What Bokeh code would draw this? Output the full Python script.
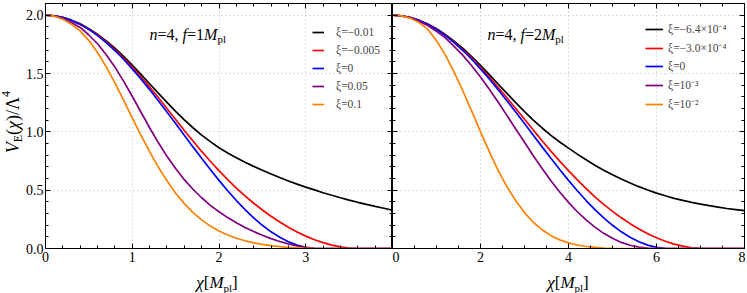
from bokeh.plotting import figure
from bokeh.models import (Range1d, LinearAxis, SingleIntervalTicker, Legend, LegendItem, Label,
                          Div, PrintfTickFormatter, CustomJSTickFormatter)
from bokeh.layouts import row, column
from bokeh.embed import file_html
from bokeh.resources import INLINE

# ---------------- data ----------------
x_left = [0.0, 0.1, 0.2, 0.3, 0.4, 0.5, 0.6, 0.7, 0.8, 0.9, 1.0, 1.1, 1.2, 1.3, 1.4, 1.5,
          1.6, 1.7, 1.8, 1.9, 2.0, 2.1, 2.2, 2.3, 2.4, 2.5, 2.6, 2.7, 2.8, 2.9, 3.0, 3.1,
          3.2, 3.3, 3.4, 3.5, 3.6, 3.7, 3.8, 3.9, 4.0]
black_left = [2.000, 1.995, 1.981, 1.957, 1.926, 1.884, 1.836, 1.779, 1.717, 1.647, 1.572,
              1.493, 1.412, 1.332, 1.252, 1.176, 1.102, 1.035, 0.972, 0.916, 0.864, 0.819,
              0.778, 0.740, 0.704, 0.670, 0.638, 0.608, 0.579, 0.552, 0.526, 0.502, 0.478,
              0.456, 0.435, 0.415, 0.396, 0.378, 0.361, 0.345, 0.329]
red_left = [2.000, 1.995, 1.980, 1.953, 1.923, 1.880, 1.830, 1.770, 1.705, 1.632, 1.555,
            1.472, 1.385, 1.294, 1.200, 1.106, 1.012, 0.921, 0.832, 0.748, 0.667, 0.590,
            0.518, 0.451, 0.388, 0.330, 0.276, 0.227, 0.182, 0.141, 0.106, 0.075, 0.050,
            0.029, 0.014, 0.003, 0.000, 0.000, 0.000, 0.000, 0.000]
blue_left = [2.000, 1.995, 1.980, 1.955, 1.921, 1.878, 1.825, 1.765, 1.697, 1.622, 1.540,
             1.454, 1.362, 1.267, 1.170, 1.071, 0.971, 0.871, 0.773, 0.677, 0.584, 0.495,
             0.411, 0.334, 0.263, 0.199, 0.143, 0.096, 0.058, 0.029, 0.010, 0.001, 0.000,
             0.000, 0.000, 0.000, 0.000, 0.000, 0.000, 0.000, 0.000]
purple_left = [2.000, 1.993, 1.972, 1.938, 1.895, 1.830, 1.755, 1.660, 1.555, 1.435, 1.305,
               1.170, 1.035, 0.908, 0.790, 0.685, 0.590, 0.508, 0.435, 0.370, 0.315, 0.265,
               0.220, 0.180, 0.145, 0.113, 0.085, 0.060, 0.040, 0.022, 0.009, 0.002, 0.000,
               0.000, 0.000, 0.000, 0.000, 0.000, 0.000, 0.000, 0.000]
orange_left = [2.000, 1.991, 1.965, 1.922, 1.865, 1.782, 1.680, 1.557, 1.420, 1.272, 1.120,
               0.972, 0.830, 0.698, 0.580, 0.473, 0.385, 0.307, 0.245, 0.192, 0.150, 0.116,
               0.088, 0.066, 0.048, 0.035, 0.024, 0.016, 0.010, 0.006, 0.003, 0.001, 0.000,
               0.000, 0.000, 0.000, 0.000, 0.000, 0.000, 0.000, 0.000]

x_right = [0.0, 0.2, 0.4, 0.6, 0.8, 1.0, 1.2, 1.4, 1.6, 1.8, 2.0, 2.2, 2.4, 2.6, 2.8, 3.0,
           3.2, 3.4, 3.6, 3.8, 4.0, 4.2, 4.4, 4.6, 4.8, 5.0, 5.2, 5.4, 5.6, 5.8, 6.0, 6.2,
           6.4, 6.6, 6.8, 7.0, 7.2, 7.4, 7.6, 7.8, 8.0]
black_right = [2.000, 1.995, 1.981, 1.956, 1.925, 1.883, 1.835, 1.778, 1.715, 1.645, 1.570,
               1.490, 1.410, 1.330, 1.250, 1.174, 1.100, 1.033, 0.970, 0.913, 0.860, 0.809,
               0.760, 0.714, 0.670, 0.632, 0.595, 0.562, 0.530, 0.502, 0.475, 0.452, 0.430,
               0.412, 0.395, 0.380, 0.367, 0.355, 0.343, 0.334, 0.325]
red_right = [2.000, 1.995, 1.980, 1.955, 1.922, 1.878, 1.828, 1.769, 1.703, 1.631, 1.552,
             1.470, 1.382, 1.292, 1.200, 1.108, 1.015, 0.924, 0.835, 0.749, 0.667, 0.588,
             0.513, 0.443, 0.378, 0.318, 0.263, 0.213, 0.167, 0.127, 0.092, 0.062, 0.038,
             0.020, 0.006, 0.001, 0.000, 0.000, 0.000, 0.000, 0.000]
blue_right = [2.000, 1.995, 1.980, 1.955, 1.921, 1.878, 1.825, 1.765, 1.697, 1.622, 1.540,
              1.454, 1.362, 1.267, 1.170, 1.071, 0.971, 0.871, 0.773, 0.677, 0.584, 0.495,
              0.411, 0.334, 0.263, 0.199, 0.143, 0.096, 0.058, 0.029, 0.010, 0.001, 0.000,
              0.000, 0.000, 0.000, 0.000, 0.000, 0.000, 0.000, 0.000]
purple_right = [2.000, 1.994, 1.978, 1.948, 1.912, 1.862, 1.805, 1.733, 1.655, 1.566, 1.470,
                1.365, 1.255, 1.141, 1.025, 0.910, 0.795, 0.685, 0.580, 0.484, 0.395, 0.315,
                0.245, 0.183, 0.130, 0.087, 0.052, 0.028, 0.012, 0.003, 0.000, 0.000, 0.000,
                0.000, 0.000, 0.000, 0.000, 0.000, 0.000, 0.000, 0.000]
orange_right = [2.000, 1.994, 1.975, 1.937, 1.880, 1.781, 1.660, 1.512, 1.350, 1.177, 1.000,
                0.830, 0.670, 0.530, 0.410, 0.308, 0.225, 0.161, 0.110, 0.074, 0.048, 0.030,
                0.017, 0.009, 0.004, 0.001, 0.000, 0.000, 0.000, 0.000, 0.000, 0.000, 0.000,
                0.000, 0.000, 0.000, 0.000, 0.000, 0.000, 0.000, 0.000]

labels_left = ["ξ=−0.01", "ξ=−0.005", "ξ=0", "ξ=0.05", "ξ=0.1"]
labels_right = ["ξ=−6.4×10⁻⁴", "ξ=−3.0×10⁻⁴", "ξ=0", "ξ=10⁻³", "ξ=10⁻²"]
colors = ["#000000", "#ff0000", "#0000ff", "#800080", "#ff8000"]

FONT = "Liberation Serif"
FIG_H = 271
FRAME_H = 245
YDIV_W = 22

UP = {'.': .25, ',': .25, ' ': .25, '=': .564, '[': .333, ']': .333, '(': .333, ')': .333,
      '/': .278, 'M': .889, 'E': .611, 'p': .5, 'l': .278, 'Λ': .722}
IT = {'n': .5, 'f': .278, 'M': .833, 'V': .611, 'χ': .55, '=': .675, ',': .25, ' ': .25}


def width(text, size, style):
    tab = IT if style == "italic" else UP
    return sum(tab.get(c, 0.5) for c in text) * size


def rich(p, x, y, pieces, xo=0.0, yo=0.0):
    adv = 0.0
    for t, s, st, dy in pieces:
        p.add_layout(Label(x=x, y=y, x_offset=xo + adv, y_offset=yo + dy, text=t,
                           text_font=FONT, text_font_size=f"{s}px", text_font_style=st,
                           text_color="black", text_align="left", text_baseline="alphabetic"))
        adv += width(t, s, st)


def blank_axis(loc_ticker):
    return LinearAxis(ticker=loc_ticker, formatter=CustomJSTickFormatter(code="return ''"),
                      major_label_text_font_size="1px", major_label_standoff=0,
                      major_tick_in=5, major_tick_out=0, minor_tick_in=3, minor_tick_out=0,
                      axis_line_color="black")


def make_panel(xs, series, labels, xr, x_int, x_minor, w, bl, br, first,
               leg_x, glyph_w, standoff, f_text, ann_x):
    p = figure(width=w, height=FIG_H, x_range=Range1d(*xr), y_range=Range1d(0, 2.1),
               output_backend="svg", toolbar_location=None,
               min_border_left=bl, min_border_right=br, min_border_top=3,
               min_border_bottom=FIG_H - 3 - FRAME_H)
    p.outline_line_color = "black"
    p.border_fill_color = "white"

    xt = SingleIntervalTicker(interval=x_int, num_minor_ticks=x_minor)
    yt = SingleIntervalTicker(interval=0.5, num_minor_ticks=5)

    for ax in (p.xaxis[0], p.yaxis[0]):
        ax.major_tick_in = 5
        ax.major_tick_out = 0
        ax.minor_tick_in = 3
        ax.minor_tick_out = 0
        ax.axis_line_color = "black"
        ax.major_label_text_font = FONT
        ax.major_label_text_font_size = "14px"
        ax.major_label_text_color = "black"
    p.xaxis[0].ticker = xt
    p.yaxis[0].ticker = yt
    p.yaxis[0].formatter = PrintfTickFormatter(format="%.1f")
    p.xaxis[0].major_label_standoff = 3
    p.yaxis[0].major_label_standoff = 2
    if first:
        p.xaxis[0].major_label_overrides = {xr[1]: ""}
    else:
        p.yaxis[0].formatter = CustomJSTickFormatter(code="return ''")
        p.yaxis[0].major_label_text_font_size = "1px"
        p.yaxis[0].major_label_standoff = 0

    p.add_layout(blank_axis(xt), "above")
    p.add_layout(blank_axis(yt), "right")

    p.xgrid.ticker = xt
    p.ygrid.ticker = yt
    for g in (p.xgrid[0], p.ygrid[0]):
        g.grid_line_color = "#bdbdbd"
        g.grid_line_dash = "1 3"
        g.grid_line_width = 1

    rends = [p.line(xs, ys, line_color=c, line_width=1.7) for ys, c in zip(series, colors)]
    items = [LegendItem(label=lab, renderers=[r]) for lab, r in zip(labels, rends)]
    leg = Legend(items=items, location=(leg_x, FRAME_H - 22 - 86), glyph_width=glyph_w,
                 glyph_height=14, label_height=14, spacing=4, label_standoff=standoff,
                 padding=0, margin=0, border_line_alpha=0, background_fill_alpha=0,
                 label_text_font=FONT, label_text_font_size="11.5px")
    p.add_layout(leg)

    rich(p, ann_x, 2.1, [("n", 16, "italic", 0), ("=4, ", 16, "normal", 0),
                         ("f", 16, "italic", 0), (f_text, 16, "normal", 0),
                         ("M", 16, "italic", 0), ("pl", 11, "normal", -4)], yo=-31)
    return p


p1 = make_panel(x_left, [black_left, red_left, blue_left, purple_left, orange_left], labels_left,
                (0, 4), 1, 5, 42 - YDIV_W + 350, 42 - YDIV_W, 0, True, 267, 12, 12, "=1", 1.2)
p2 = make_panel(x_right, [black_right, red_right, blue_right, purple_right, orange_right], labels_right,
                (0, 8), 2, 4, 353, 0, 1, False, 253, 18, 5, "=2", 2.16)

SERIF = "font-family:'Liberation Serif','Times New Roman',serif;color:black;"
ylabel_html = ('<div style="width:%dpx;height:245px;display:flex;align-items:center;'
               'justify-content:flex-end;">' % YDIV_W +
               '<span style="writing-mode:vertical-rl;transform:rotate(180deg);white-space:nowrap;'
               + SERIF + 'font-size:18px;line-height:18px;padding-right:4px;">'
               '<i>V</i><sub style="font-size:12px;line-height:0;">E</sub>(<i>χ</i>)/Λ'
               '<sup style="font-size:12px;line-height:0;">4</sup></span></div>')
ydiv = Div(text=ylabel_html, width=YDIV_W, height=251, margin=0)


def xlabel_div(w):
    html = ('<div style="width:%dpx;padding-top:4px;text-align:center;white-space:nowrap;' % w
            + SERIF + 'font-size:17px;line-height:16px;">'
            '<i>χ</i>[<i>M</i><sub style="font-size:11px;line-height:0;">pl</sub>]</div>')
    return Div(text=html, width=w, height=22, margin=0)


spacer = Div(text="", width=42, height=22, margin=0)
layout = column(row(ydiv, p1, p2), row(spacer, xlabel_div(350), xlabel_div(352)))
open("out.html", "w").write(file_html(layout, INLINE))
